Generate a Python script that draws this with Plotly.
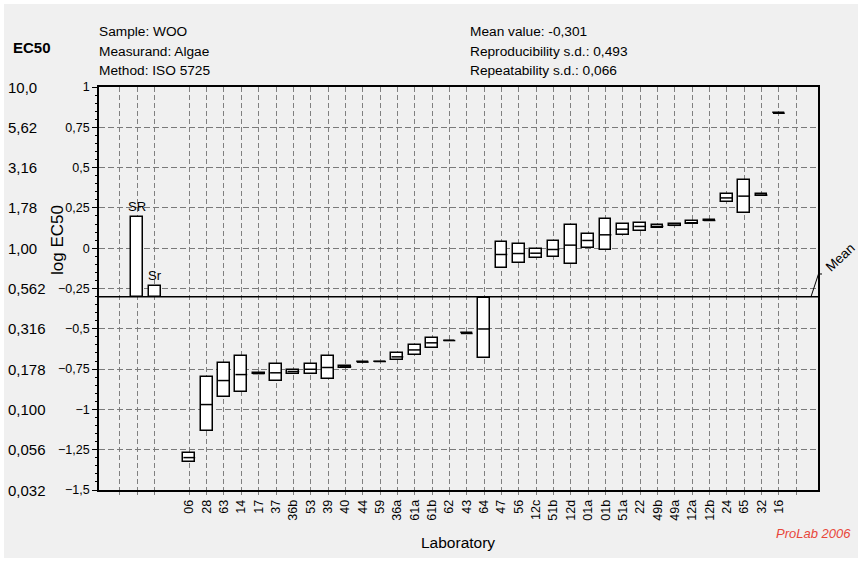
import plotly.graph_objects as go

# Laboratory codes, ordered by median
labs = ["06", "28", "63", "14", "17", "37", "36b", "53", "39", "40", "44", "59",
        "36a", "61a", "61b", "62", "43", "64", "47", "56", "12c", "51b", "12d",
        "01a", "01b", "51a", "22", "49b", "49a", "12a", "12b", "24", "65", "32", "16"]

# log EC50 per laboratory: lower end, median, upper end of each box
lo = [-1.326, -1.136, -0.920, -0.893, -0.780, -0.825, -0.780, -0.780, -0.813, -0.743,
      -0.707, -0.703, -0.691, -0.662, -0.616, -0.573, -0.529, -0.684, -0.124, -0.093,
      -0.060, -0.056, -0.101, 0.002, -0.014, 0.085, 0.107, 0.128, 0.136, 0.149,
      0.167, 0.285, 0.221, 0.323, 0.837]
med = [-1.299, -0.970, -0.821, -0.784, -0.778, -0.773, -0.765, -0.751, -0.740, -0.736,
       -0.707, -0.703, -0.674, -0.631, -0.587, -0.573, -0.529, -0.501, -0.039, -0.033,
       -0.031, -0.008, 0.019, 0.048, 0.083, 0.118, 0.135, 0.135, 0.142, 0.158,
       0.172, 0.312, 0.323, 0.329, 0.837]
hi = [-1.272, -0.798, -0.715, -0.670, -0.776, -0.720, -0.753, -0.720, -0.666, -0.728,
      -0.707, -0.703, -0.651, -0.600, -0.554, -0.573, -0.529, -0.312, 0.041, 0.023,
      -0.002, 0.045, 0.145, 0.091, 0.182, 0.149, 0.159, 0.143, 0.149, 0.167,
      0.178, 0.337, 0.426, 0.335, 0.837]

# Summary statistics
mean_value = -0.301
sd_R = 0.493   # reproducibility
sd_r = 0.066   # repeatability

# Left axis (log EC50) ticks and the matching EC50 values
ytick_vals = [1, 0.75, 0.5, 0.25, 0, -0.25, -0.5, -0.75, -1, -1.25, -1.5]
ytick_text = ["1", "0,75", "0,5", "0,25", "0", "\u22120,25", "\u22120,5",
              "\u22120,75", "\u22121", "\u22121,25", "\u22121,5"]
ec50_text = ["10,0", "5,62", "3,16", "1,78", "1,00", "0,562", "0,316",
             "0,178", "0,100", "0,056", "0,032"]

FONT = "Liberation Sans, Arial, sans-serif"
BG = "#f0f0f0"
W, H = 862, 562
ML, MR, MT, MB = 99, 44, 87, 72
PW, PH = W - ML - MR, H - MT - MB


def px(xp):
    return (xp - ML) / PW


def py(yp):
    return (MT + PH - yp) / PH


pos = list(range(len(labs)))
BW = 0.68

fig = go.Figure()

# SR / Sr bars drawn up from the mean
fig.add_trace(go.Bar(
    x=[-3, -2], base=[mean_value, mean_value], y=[sd_R, sd_r], width=BW,
    marker=dict(color="white", line=dict(color="black", width=1.5)),
    hoverinfo="skip", showlegend=False))

# Laboratory boxes
fig.add_trace(go.Bar(
    x=pos, base=lo, y=[h - l for h, l in zip(hi, lo)], width=BW,
    marker=dict(color="white", line=dict(color="black", width=1.5)),
    showlegend=False))

# Median lines
mx, my = [], []
for p, m in zip(pos, med):
    mx += [p - BW / 2, p + BW / 2, None]
    my += [m, m, None]
fig.add_trace(go.Scatter(x=mx, y=my, mode="lines",
                         line=dict(color="black", width=1.5),
                         hoverinfo="skip", showlegend=False))

grid_pos = [-4, -3, -2] + pos + [len(labs)]
grid_text = ["", "", ""] + labs + [""]

fig.update_layout(
    width=W, height=H,
    margin=dict(l=ML, r=MR, t=MT, b=MB, pad=0),
    paper_bgcolor="white", plot_bgcolor=BG,
    font=dict(family=FONT, color="black"),
    bargap=0,
    xaxis=dict(
        range=[(ML - 189.3) / 17.34, (ML + PW - 189.3) / 17.34],
        tickmode="array", tickvals=grid_pos, ticktext=grid_text,
        tickangle=-90, tickfont=dict(size=12.5),
        ticks="outside", ticklen=3, tickcolor="#808080",
        showgrid=True, gridcolor="#808080", gridwidth=1, griddash="5px,3px",
        showline=True, linecolor="black", linewidth=1.6, mirror=True,
        zeroline=False,
    ),
    yaxis=dict(
        range=[-1.5, 1],
        tickmode="array", tickvals=ytick_vals, ticktext=ytick_text,
        tickfont=dict(size=12.5),
        ticks="outside", ticklen=5, tickcolor="black",
        minor=dict(tickmode="linear", tick0=0, dtick=0.05, ticks="outside",
                   ticklen=2, tickcolor="black", showgrid=False),
        showgrid=True, gridcolor="#7a7a7a", gridwidth=1, griddash="6px,3px",
        showline=True, linecolor="black", linewidth=1.6, mirror=True,
        zeroline=False,
    ),
)

shapes = [
    # panel background
    dict(type="rect", xref="paper", yref="paper", layer="below",
         x0=px(4), x1=px(858), y0=py(558), y1=py(4),
         fillcolor=BG, line=dict(width=0)),
    # mean line
    dict(type="line", xref="paper", yref="y", x0=0, x1=1,
         y0=mean_value, y1=mean_value, line=dict(color="black", width=1.5)),
    # leader to the "Mean" label
    dict(type="line", xref="paper", yref="y", x0=px(811), x1=px(818.5),
         y0=mean_value, y1=-0.16, line=dict(color="black", width=1)),
    dict(type="line", xref="paper", yref="y", x0=px(818.5), x1=px(822),
         y0=-0.16, y1=-0.16, line=dict(color="black", width=1)),
]
fig.update_layout(shapes=shapes)

ann = []


def text(x, y, s, size=13.7, xanchor="left", color="black", **kw):
    ann.append(dict(x=x, y=y, xref="paper", yref="paper", text=s,
                    showarrow=False, xanchor=xanchor, yanchor="middle",
                    font=dict(size=size, color=color, family=FONT), **kw))


# Header block
text(px(97), py(32), "Sample: WOO")
text(px(97), py(51), "Measurand: Algae")
text(px(97), py(70.5), "Method: ISO 5725")
text(px(468), py(32), "Mean value: " + f"{mean_value:.3f}".replace(".", ","))
text(px(468), py(51), "Reproducibility s.d.: " + f"{sd_R:.3f}".replace(".", ","))
text(px(468), py(70.5), "Repeatability s.d.: " + f"{sd_r:.3f}".replace(".", ","))
text(px(11), py(47.5), "<b>EC50</b>", size=15)

# EC50 scale next to the log axis
for v, s in zip(ytick_vals, ec50_text):
    ann.append(dict(x=px(6), y=v, xref="paper", yref="y", text=s,
                    showarrow=False, xanchor="left", yanchor="middle",
                    font=dict(size=15, family=FONT)))

# Axis titles
text(px(57), py(240), "log EC50", size=17, xanchor="center", textangle=-90)
text(px(458), py(542.5), "Laboratory", size=15.5, xanchor="center")

# SR / Sr labels
ann.append(dict(x=-3, y=mean_value + sd_R, xref="x", yref="y", text="SR",
                showarrow=False, yanchor="bottom", yshift=1,
                font=dict(size=13, family=FONT)))
ann.append(dict(x=-2, y=mean_value + sd_r, xref="x", yref="y", text="Sr",
                showarrow=False, yanchor="bottom", yshift=1,
                font=dict(size=13, family=FONT)))

# Mean label
text(px(840), py(257), "Mean", size=13.5, xanchor="center", textangle=-43)

# Footer
text(px(813), py(533), "<i>ProLab 2006</i>", size=13, xanchor="center",
     color="#e8463a")

fig.update_layout(annotations=ann)

fig.write_html("out.html")
